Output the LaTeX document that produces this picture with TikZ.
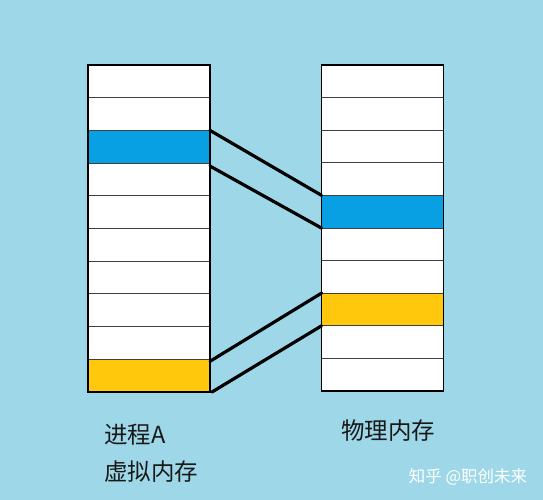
\documentclass[tikz,border=0pt]{standalone}
\usepackage{fontspec}
\setmainfont{Noto Sans CJK SC}
\definecolor{bgblue}{RGB}{158,216,232}
\definecolor{cblue}{RGB}{8,160,226}
\definecolor{cyellow}{RGB}{255,200,12}
\definecolor{txt}{RGB}{25,25,25}
\tikzset{
  cellbox/.style={draw=black!75, line width=0.9pt, minimum width=122pt, minimum height=32.7pt, inner sep=0pt, outer sep=0pt},
  outerbox/.style={draw=black, line width=1.6pt},
  linkline/.style={draw=black, line width=3.2pt, line cap=round},
  lbl/.style={text=txt, font=\fontsize{23.5}{28}\selectfont, anchor=west, inner sep=0pt},
  wmark/.style={text=white, font=\fontsize{16.5}{19}\selectfont, inner sep=0pt}
}
\begin{document}
\begin{tikzpicture}[x=1pt,y=-1pt]
\fill[bgblue] (0,0) rectangle (543,500);
\useasboundingbox (0,0) rectangle (543,500);
\foreach \i/\c in {1/white,2/white,3/cblue,4/white,5/white,6/white,7/white,8/white,9/white,10/cyellow}{
  \node[cellbox, fill=\c] (L\i) at (149, {65+32.7*(\i-0.5)}) {};
}
\foreach \i/\c in {1/white,2/white,3/white,4/white,5/cblue,6/white,7/white,8/cyellow,9/white,10/white}{
  \node[cellbox, fill=\c] (R\i) at (382.5, {65+32.6*(\i-0.5)}) {};
}
\draw[outerbox] (L1.north west) rectangle (L10.south east);
\draw[outerbox] (R1.north west) rectangle (R10.south east);
\draw[linkline] (L3.north east) -- (R5.north west);
\draw[linkline] ([yshift=-3pt]L3.south east) -- (R5.south west);
\draw[linkline] ([yshift=-2pt]L10.north east) -- (R8.north west);
\draw[linkline] ([xshift=2pt]L10.south east) -- (R8.south west);
\node[lbl] (t1) at (104,435) {进程A};
\node[lbl] (t2) at (104,472) {虚拟内存};
\node[lbl] (t3) at (341,431) {物理内存};
\node[wmark] (wm) at (468,477) {知乎 @职创未来};
\end{tikzpicture}
\end{document}
